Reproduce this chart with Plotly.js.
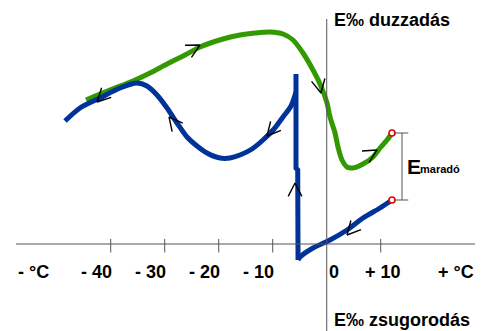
<!DOCTYPE html>
<html>
<head>
<meta charset="utf-8">
<script src="https://cdn.plot.ly/plotly-3.0.1.min.js"></script>
<style>html,body{margin:0;padding:0;background:#fff;}#chart{width:483px;height:331px;}</style>
</head>
<body>
<div id="chart"></div>
<script>
// Temperature (°C) and strain (arbitrary units, 0 = baseline)
const greenT = [-44.57,-41.98,-39.2,-35.87,-32.72,-29.57,-26.24,-23.46,-19.2,-16.06,-13.28,-10.5,-8.09,-6.24,-4.39,-2.54,-1.24,0.06,0.61,1.54,2.09,2.83,3.76,4.87,6.72,8.57,9.87,11.17,12.09];
const greenE = [144,150,156,163,171,180,189,197,205,209,211,212,210,204,191,174,160,141,127,111,97,84,77,76,80,87,96,104,111];

const blueT = [12.09,9.87,6.72,3.76,0.61,-2.54,-4.94,-5.31,-5.37,-5.69,-5.69,-5.69,-6.61,-8.09,-9.76,-11.8,-13.83,-16.06,-17.91,-19.76,-22.17,-24.02,-25.87,-27.72,-29.57,-31.43,-33.28,-35.13,-38.28,-41.98,-45.69,-48.46];
const blueE = [44,36,26,14,4,-4,-13,-16,74,76,170,152,138,127,115,104,95,89,86,86,91,98,107,121,136,149,158,161,156,146,136,123];

// Direction arrows on the curves: position and pointing angle (degrees)
const arrowT = [-42.54,-29.2,-23.46,-11.06,-5.87,-1.06,9.31,3.76];
const arrowE = [142,127,199,108,61,151,94,9];
const arrowDir = [225,129,28,229,90,282,31,228];

const xTicks = [-40,-30,-20,-10,0,10];
const xTickText = ['- 40','- 30','- 20','- 10','0','+ 10'];

const W = 483, H = 331;
const xRange = [-60.5, 28.94];
const yRange = [-87, 244];
const pxX = W / (xRange[1] - xRange[0]);
const pxY = H / (yRange[1] - yRange[0]);

const GREEN = '#339900', BLUE = '#003399', AXIS = '#555555';
const FONT = 'Liberation Sans, Arial, sans-serif';

// chevrons
const ax = [], ay = [];
const L = 15, HALF = 27 * Math.PI / 180;
for (let i = 0; i < arrowT.length; i++) {
  const back = (arrowDir[i] + 180) * Math.PI / 180;
  const a1 = back + HALF, a2 = back - HALF;
  ax.push(arrowT[i] + L * Math.cos(a1) / pxX, arrowT[i], arrowT[i] + L * Math.cos(a2) / pxX, null);
  ay.push(arrowE[i] + L * Math.sin(a1) / pxY, arrowE[i], arrowE[i] + L * Math.sin(a2) / pxY, null);
}

const gLast = greenT.length - 1;
const ends = {x: [greenT[gLast], blueT[0]], y: [greenE[gLast], blueE[0]]};

// blue curve split where it has sharp corners (spike), smooth elsewhere
const SPIKE_START = 7, SPIKE_END = 11;
const traces = [
  {x: greenT, y: greenE, mode: 'lines', line: {color: GREEN, width: 5, shape: 'spline', smoothing: 0.8}, hoverinfo: 'skip'},
  {x: blueT.slice(0, SPIKE_START + 1), y: blueE.slice(0, SPIKE_START + 1), mode: 'lines', line: {color: BLUE, width: 5, shape: 'spline', smoothing: 0.6}, hoverinfo: 'skip'},
  {x: blueT.slice(SPIKE_START, SPIKE_END + 1), y: blueE.slice(SPIKE_START, SPIKE_END + 1), mode: 'lines', line: {color: BLUE, width: 5}, hoverinfo: 'skip'},
  {x: blueT.slice(SPIKE_END), y: blueE.slice(SPIKE_END), mode: 'lines', line: {color: BLUE, width: 5, shape: 'spline', smoothing: 0.8}, hoverinfo: 'skip'},
  {x: ax, y: ay, mode: 'lines', line: {color: '#000', width: 1.4}, hoverinfo: 'skip'},
  {x: ends.x, y: ends.y, mode: 'markers', marker: {symbol: 'circle', size: 6, color: '#fff', line: {color: '#ee0000', width: 1.6}}, hoverinfo: 'skip'}
];

const shapes = [];
// x axis line
shapes.push({type: 'line', xref: 'paper', yref: 'y', x0: 16 / W, x1: 475 / W, y0: 0, y1: 0, line: {color: AXIS, width: 1}});
// y axis line
shapes.push({type: 'line', xref: 'x', yref: 'paper', x0: 0, x1: 0, y0: 0, y1: 1 - 19 / H, line: {color: AXIS, width: 1}});
// ticks
xTicks.forEach(t => {
  if (t !== 0) shapes.push({type: 'line', xref: 'x', yref: 'y', x0: t, x1: t, y0: 5, y1: -8.5, line: {color: AXIS, width: 1}});
});
// residual-strain bracket
const bx = 13.94, capL = 12.4, capR = 15.1;
shapes.push({type: 'line', xref: 'x', yref: 'y', x0: bx, x1: bx, y0: ends.y[0], y1: ends.y[1], line: {color: AXIS, width: 1}});
shapes.push({type: 'line', xref: 'x', yref: 'y', x0: capL, x1: capR, y0: ends.y[0], y1: ends.y[0], line: {color: AXIS, width: 1}});
shapes.push({type: 'line', xref: 'x', yref: 'y', x0: capL, x1: capR, y0: ends.y[1], y1: ends.y[1], line: {color: AXIS, width: 1}});

const bold = (size) => ({family: FONT, size: size, color: '#000', weight: 'bold'});
const annotations = [];
xTicks.forEach((t, i) => {
  let anchor = 'right', shift = 3;
  if (t === 0) { anchor = 'left'; shift = 0; }
  else if (t > 0) { anchor = 'center'; shift = 2; }
  annotations.push({x: t, y: -28, xref: 'x', yref: 'y', text: xTickText[i], showarrow: false,
    xanchor: anchor, yanchor: 'middle', xshift: shift, font: bold(18)});
});
annotations.push({xref: 'paper', yref: 'y', x: 16 / W, y: -28, text: '- °C', showarrow: false, xanchor: 'left', yanchor: 'middle', font: bold(18)});
annotations.push({xref: 'paper', yref: 'y', x: 476 / W, y: -28, text: '+ °C', showarrow: false, xanchor: 'right', yanchor: 'middle', font: bold(18)});
annotations.push({xref: 'x', yref: 'y', x: 0, xshift: 5, y: 224, text: 'E‰ duzzadás', showarrow: false, xanchor: 'left', yanchor: 'middle', font: bold(18)});
annotations.push({xref: 'x', yref: 'y', x: 0, xshift: 5, y: -76, text: 'E‰ zsugorodás', showarrow: false, xanchor: 'left', yanchor: 'middle', font: bold(18)});
annotations.push({xref: 'x', yref: 'y', x: bx, xshift: 3, y: 78, text: 'E', showarrow: false, xanchor: 'left', yanchor: 'middle', font: bold(21)});
annotations.push({xref: 'x', yref: 'y', x: bx, xshift: 16, y: 75, text: 'maradó', showarrow: false, xanchor: 'left', yanchor: 'middle', font: bold(11)});

const layout = {
  width: W, height: H,
  margin: {l: 0, r: 0, t: 0, b: 0},
  paper_bgcolor: '#fff', plot_bgcolor: '#fff',
  showlegend: false,
  xaxis: {range: xRange, visible: false, fixedrange: true},
  yaxis: {range: yRange, visible: false, fixedrange: true},
  shapes: shapes,
  annotations: annotations
};

Plotly.newPlot('chart', traces, layout, {displayModeBar: false, staticPlot: true});
</script>
</body>
</html>
